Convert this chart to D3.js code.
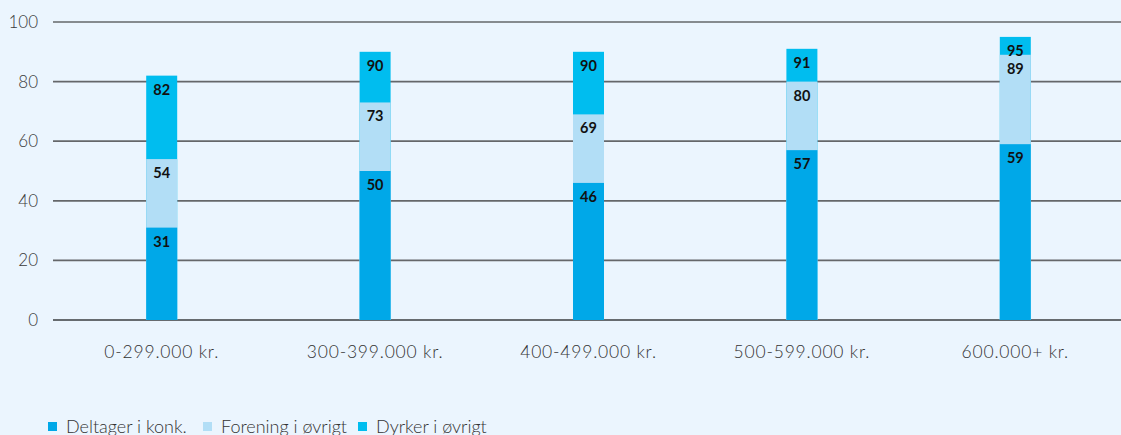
<!DOCTYPE html>
<html><head><meta charset="utf-8">
<script src="https://cdn.jsdelivr.net/npm/d3@7/dist/d3.min.js"></script>
<style>
html,body{margin:0;padding:0;background:#ebf5fe;}
svg{display:block;font-family:Lato,"Open Sans",sans-serif;}
</style></head><body>
<svg id="c" width="1121" height="435"></svg>
<script>
const categories = ["0-299.000 kr.","300-399.000 kr.","400-499.000 kr.","500-599.000 kr.","600.000+ kr."];
const seriesNames = ["Deltager i konk.","Forening i øvrigt","Dyrker i øvrigt"];
const deltager = [31,50,46,57,59];
const forening = [54,73,69,80,89];
const dyrker = [82,90,90,91,95];
const yTicks = [0,20,40,60,80,100];
const colors = ["#00a8e8","#b2def6","#00bdef"];

const svg = d3.select("#c");
svg.append("rect").attr("width",1121).attr("height",435).attr("fill","#ebf5fe");
const x = d3.scaleBand().domain(categories).range([55,1122]);
const y = d3.scaleLinear().domain([0,100]).range([320,22]);
const barW = 31;

// gridlines
svg.append("g").selectAll("line").data(yTicks).join("line")
  .attr("x1",53).attr("x2",1121)
  .attr("y1",d=>y(d)).attr("y2",d=>y(d))
  .attr("stroke",d=>d===0?"#3a3c3f":"#65676a").attr("stroke-width",1.7);

// y tick labels
svg.append("g").selectAll("text").data(yTicks).join("text")
  .attr("x",38).attr("y",d=>y(d)+6)
  .attr("text-anchor","end").attr("font-size",17).attr("font-weight",300).attr("fill","#3a3a3a")
  .text(d=>d);

// bars drawn from largest (back) to smallest (front)
const series = [dyrker, forening, deltager];
const scol = [colors[2], colors[1], colors[0]];
series.forEach((arr,si)=>{
  const g = svg.append("g");
  g.selectAll("rect").data(arr).join("rect")
    .attr("x",(d,i)=>x(categories[i])+x.bandwidth()/2-barW/2)
    .attr("width",barW)
    .attr("y",d=>y(d)).attr("height",d=>y(0)-y(d))
    .attr("fill",scol[si]);
});
series.forEach((arr)=>{
  svg.append("g").selectAll("text").data(arr).join("text")
    .attr("x",(d,i)=>x(categories[i])+x.bandwidth()/2)
    .attr("y",d=>y(d)+19)
    .attr("text-anchor","middle").attr("font-size",14.5).attr("font-weight",700).attr("fill","#111")
    .text(d=>d);
});

// x labels
svg.append("g").selectAll("text").data(categories).join("text")
  .attr("x",d=>x(d)+x.bandwidth()/2).attr("y",358)
  .attr("text-anchor","middle").attr("font-size",17.5).attr("font-weight",300).attr("fill","#333")
  .attr("letter-spacing","0.8px")
  .text(d=>d);

// legend
const legX = [48,203,358];
const lg = svg.append("g");
seriesNames.forEach((n,i)=>{
  lg.append("rect").attr("x",legX[i]).attr("y",422).attr("width",9).attr("height",9).attr("fill",colors[i]);
  lg.append("text").attr("x",legX[i]+18).attr("y",433).attr("font-size",18).attr("font-weight",300).attr("fill","#333").text(n);
});
</script>
</body></html>
